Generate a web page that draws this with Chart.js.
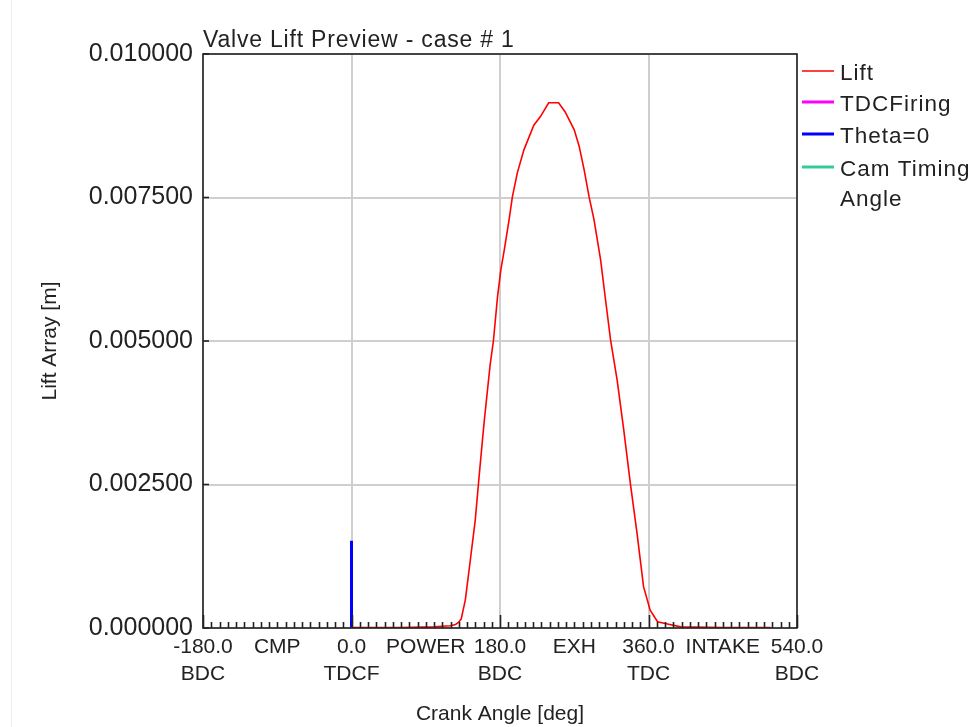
<!DOCTYPE html>
<html><head><meta charset="utf-8">
<script src="https://cdn.jsdelivr.net/npm/chart.js@4.4.1/dist/chart.umd.min.js"></script>
<style>
html,body{margin:0;padding:0;background:#fff;overflow:hidden}
#wrap{position:relative;width:976px;height:727px}
#edge{position:absolute;left:11px;top:0;width:1px;height:727px;background:#ededed}
canvas{position:absolute;left:0;top:0}
</style></head>
<body><div id="wrap"><div id="edge"></div><canvas id="c" width="976" height="727"></canvas></div>
<script>
const chartTitle = 'Valve Lift Preview - case # 1';
const xAxisTitle = 'Crank Angle [deg]';
const yAxisTitle = 'Lift Array [m]';
const seriesNames = ['Lift', 'TDCFiring', 'Theta=0', ['Cam Timing', 'Angle']];
const seriesColors = ['#ff0000', '#ff00ff', '#0000ff', '#33cc99'];

const liftAngle = [0, 60, 100, 110, 120, 126, 130, 133, 138, 144, 150, 154, 158, 161, 168, 172, 177, 181, 185, 191, 195, 201, 209, 221, 229, 239, 251, 259, 270, 276, 282, 288, 294, 302, 308, 314, 322, 330, 338, 346, 354, 362, 371, 383, 399, 450, 508];
const liftValue = [0.00001, 0.00001, 0.00002, 0.00003, 0.00004, 0.00006, 0.0001, 0.00016, 0.00049, 0.00118, 0.00188, 0.00253, 0.00316, 0.00362, 0.00458, 0.00500, 0.00577, 0.00624, 0.00657, 0.00711, 0.00751, 0.00793, 0.00833, 0.00876, 0.00891, 0.00915, 0.00915, 0.00899, 0.00868, 0.00839, 0.00798, 0.00751, 0.00711, 0.00641, 0.00571, 0.00502, 0.00432, 0.00345, 0.00252, 0.00166, 0.00072, 0.00031, 0.00011, 0.00007, 0.00002, 0.00001, 0.00001];
const tdcAngle = [];
const tdcValue = [];
const thetaAngle = [0, 0];
const thetaValue = [0, 0.00152];
const camAngle = [];
const camValue = [];

const xTickValues = [-180, -90, 0, 90, 180, 270, 360, 450, 540];
const xTickLabels = [['-180.0', 'BDC'], 'CMP', ['0.0', 'TDCF'], 'POWER', ['180.0', 'BDC'], 'EXH', ['360.0', 'TDC'], 'INTAKE', ['540.0', 'BDC']];
const yTickValues = [0, 0.0025, 0.005, 0.0075, 0.01];

const FONT = '"Liberation Sans", Arial, sans-serif';
const pts = (xs, ys) => xs.map((x, i) => ({x: x, y: ys[i]}));

const framePlugin = {
  id: 'frame',
  afterDatasetsDraw(chart) {
    const {ctx, chartArea: a, scales: {x, y}} = chart;
    ctx.save();
    ctx.strokeStyle = '#222';
    ctx.lineWidth = 1.6;
    for (let v = -180; v <= 540; v += 10) {
      const px = Math.round(x.getPixelForValue(v)) + 0.5;
      const len = (v % 180 === 0) ? 13 : 6;
      ctx.beginPath(); ctx.moveTo(px, a.bottom); ctx.lineTo(px, a.bottom - len); ctx.stroke();
    }
    yTickValues.forEach(v => {
      const py = y.getPixelForValue(v);
      ctx.beginPath(); ctx.moveTo(a.left, py); ctx.lineTo(a.left + 6, py); ctx.stroke();
    });
    ctx.lineWidth = 1.6;
    ctx.strokeRect(a.left, a.top, a.right - a.left, a.bottom - a.top);
    ctx.restore();
  },
  afterDraw(chart) {
    const {ctx, chartArea: a} = chart;
    ctx.save();
    ctx.fillStyle = '#222';
    ctx.font = '23px ' + FONT;
    ctx.letterSpacing = '0.8px';
    ctx.textBaseline = 'alphabetic';
    ctx.textAlign = 'left';
    ctx.fillText(chartTitle, a.left, 47);
    // legend
    ctx.font = '22.5px ' + FONT;
    ctx.letterSpacing = '1px';
    ctx.textBaseline = 'middle';
    const rows = [74, 105, 137, 170];
    chart.data.datasets.forEach((ds, i) => {
      const ty = rows[i];
      ctx.strokeStyle = ds.borderColor;
      ctx.lineWidth = i === 0 ? 1.5 : 3;
      ctx.beginPath(); ctx.moveTo(802, ty - 3); ctx.lineTo(834, ty - 3); ctx.stroke();
      const lbl = [].concat(seriesNames[i]);
      lbl.forEach((t, k) => ctx.fillText(t, 840, ty + k * 30));
    });
    ctx.restore();
  }
};

new Chart(document.getElementById('c'), {
  type: 'line',
  data: {
    datasets: [
      {label: 'Lift', data: pts(liftAngle, liftValue), borderColor: seriesColors[0], borderWidth: 1.6, pointRadius: 0, tension: 0},
      {label: 'TDCFiring', data: pts(tdcAngle, tdcValue), borderColor: seriesColors[1], borderWidth: 3, pointRadius: 0},
      {label: 'Theta=0', data: pts(thetaAngle, thetaValue), borderColor: seriesColors[2], borderWidth: 3, pointRadius: 0},
      {label: 'Cam Timing Angle', data: pts(camAngle, camValue), borderColor: seriesColors[3], borderWidth: 3, pointRadius: 0}
    ]
  },
  options: {
    responsive: false,
    animation: false,
    devicePixelRatio: 1,
    layout: {padding: {left: 0, right: 179, top: 54, bottom: 0}},
    plugins: {legend: {display: false}, tooltip: {enabled: false}, title: {display: false}},
    scales: {
      x: {
        type: 'linear', min: -180, max: 540,
        afterBuildTicks: s => { s.ticks = xTickValues.map(v => ({value: v})); },
        afterFit: s => { s.height = 99; },
        ticks: {
          autoSkip: false, maxRotation: 0, padding: 6, color: '#222',
          font: {family: FONT, size: 21, lineHeight: 1.28},
          callback: v => xTickLabels[xTickValues.indexOf(v)]
        },
        grid: {drawTicks: false, lineWidth: 2, color: c => (c.tick && c.tick.value % 180 === 0) ? '#cfcfcf' : 'rgba(0,0,0,0)'},
        border: {display: false},
        title: {display: true, text: xAxisTitle, color: '#222', font: {family: FONT, size: 21, lineHeight: 1.2}, padding: {top: 3, bottom: 0}}
      },
      y: {
        type: 'linear', min: 0, max: 0.01,
        afterBuildTicks: s => { s.ticks = yTickValues.map(v => ({value: v})); },
        afterFit: s => { s.width = 203; },
        ticks: {padding: 10, color: '#222', font: {family: FONT, size: 25}, callback: v => Number(v).toFixed(6)},
        grid: {drawTicks: false, lineWidth: 2, color: '#cfcfcf'},
        border: {display: false},
        title: {display: true, text: yAxisTitle, color: '#222', font: {family: FONT, size: 21, lineHeight: 1.2}, padding: {top: 38, bottom: 0}}
      }
    }
  },
  plugins: [framePlugin]
});
</script>
</body></html>
